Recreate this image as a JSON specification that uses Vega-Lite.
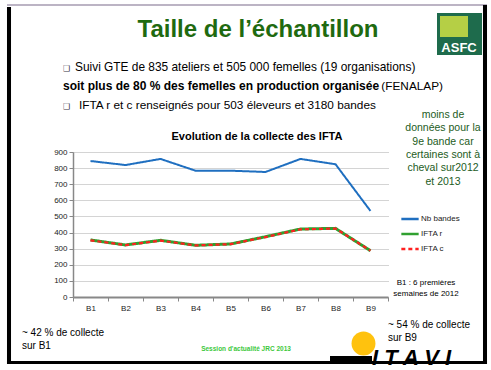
{
 "$schema": "https://vega.github.io/schema/vega-lite/v6.json",
 "width": 315,
 "height": 145,
 "autosize": {"type": "none"},
 "padding": {"left": 73, "top": 152, "right": 103, "bottom": 73},
 "background": "white",
 "config": {"view": {"stroke": null}, "font": "Liberation Sans", "text": {"font": "Liberation Sans"}},
 "data": {"values": [
  {"bande": "B1", "serie": "Nb bandes", "valeur": 844},
  {"bande": "B2", "serie": "Nb bandes", "valeur": 819},
  {"bande": "B3", "serie": "Nb bandes", "valeur": 857},
  {"bande": "B4", "serie": "Nb bandes", "valeur": 784},
  {"bande": "B5", "serie": "Nb bandes", "valeur": 784},
  {"bande": "B6", "serie": "Nb bandes", "valeur": 776},
  {"bande": "B7", "serie": "Nb bandes", "valeur": 857},
  {"bande": "B8", "serie": "Nb bandes", "valeur": 824},
  {"bande": "B9", "serie": "Nb bandes", "valeur": 534},
  {"bande": "B1", "serie": "IFTA r", "valeur": 354},
  {"bande": "B2", "serie": "IFTA r", "valeur": 323},
  {"bande": "B3", "serie": "IFTA r", "valeur": 352},
  {"bande": "B4", "serie": "IFTA r", "valeur": 321},
  {"bande": "B5", "serie": "IFTA r", "valeur": 329},
  {"bande": "B6", "serie": "IFTA r", "valeur": 374},
  {"bande": "B7", "serie": "IFTA r", "valeur": 422},
  {"bande": "B8", "serie": "IFTA r", "valeur": 426},
  {"bande": "B9", "serie": "IFTA r", "valeur": 287},
  {"bande": "B1", "serie": "IFTA c", "valeur": 352},
  {"bande": "B2", "serie": "IFTA c", "valeur": 322},
  {"bande": "B3", "serie": "IFTA c", "valeur": 350},
  {"bande": "B4", "serie": "IFTA c", "valeur": 320},
  {"bande": "B5", "serie": "IFTA c", "valeur": 328},
  {"bande": "B6", "serie": "IFTA c", "valeur": 372},
  {"bande": "B7", "serie": "IFTA c", "valeur": 420},
  {"bande": "B8", "serie": "IFTA c", "valeur": 425},
  {"bande": "B9", "serie": "IFTA c", "valeur": 288}
 ]},
 "resolve": {"scale": {"x": "independent", "y": "independent"}},
 "layer": [
  {
   "encoding": {
    "x": {"field": "bande", "type": "nominal",
     "scale": {"type": "band", "domain": ["B1","B2","B3","B4","B5","B6","B7","B8","B9"], "paddingInner": 0, "paddingOuter": 0},
     "axis": {"title": null, "labelAngle": 0, "labelFontSize": 8, "labelColor": "#222", "domainColor": "#888", "domainWidth": 2, "tickColor": "#888", "tickSize": 4, "tickBand": "extent", "labelPadding": 3, "grid": false}},
    "y": {"field": "valeur", "type": "quantitative",
     "scale": {"domain": [0, 900], "nice": false},
     "axis": {"title": null, "values": [0,100,200,300,400,500,600,700,800,900], "labelFontSize": 8, "labelColor": "#222", "grid": true, "gridColor": "#a8a8a8", "gridDash": [1,1], "domainColor": "#888", "domainWidth": 1.5, "tickColor": "#888", "tickSize": 4, "labelPadding": 2}},
    "color": {"field": "serie", "type": "nominal",
     "scale": {"domain": ["Nb bandes","IFTA r","IFTA c"], "range": ["#1f6fc0","#30a030","#ff2020"]},
     "legend": {"title": null, "orient": "none", "legendX": 327, "legendY": 57, "symbolType": "stroke", "symbolSize": 300, "symbolStrokeWidth": 2.5, "labelFontSize": 8, "labelColor": "#222", "labelOffset": 1, "rowPadding": -7}},
    "strokeDash": {"field": "serie", "type": "nominal",
     "scale": {"domain": ["Nb bandes","IFTA r","IFTA c"], "range": [[1,0],[1,0],[4,3]]},
     "legend": {"title": null, "orient": "none", "legendX": 327, "legendY": 57, "symbolType": "stroke", "symbolSize": 300, "symbolStrokeWidth": 2.5, "labelFontSize": 8, "labelColor": "#222", "labelOffset": 1, "rowPadding": -7}}
   },
   "layer": [
    {"transform": [{"filter": "datum.serie === 'Nb bandes'"}], "mark": {"type": "line", "strokeWidth": 2}},
    {"transform": [{"filter": "datum.serie === 'IFTA r'"}], "mark": {"type": "line", "strokeWidth": 3}},
    {"transform": [{"filter": "datum.serie === 'IFTA c'"}], "mark": {"type": "line", "strokeWidth": 2.2}}
   ]
  },
  {
   "data": {"values": [{}]},
   "layer": [
    {"mark": {"type": "rect", "color": "#7a6a8a"},
     "encoding": {"x": {"datum": -1.886, "type": "quantitative", "scale": {"domain": [0, 9], "nice": false}, "axis": null}, "x2": {"datum": 11.829},
      "y": {"datum": 1815.5, "type": "quantitative", "scale": {"domain": [0, 900], "nice": false}, "axis": null}, "y2": {"datum": 1809.3}}},
    {"mark": {"type": "rect", "color": "#000"},
     "encoding": {"x": {"datum": -1.886, "type": "quantitative", "scale": {"domain": [0, 9], "nice": false}, "axis": null}, "x2": {"datum": -1.771},
      "y": {"datum": 1800, "type": "quantitative", "scale": {"domain": [0, 900], "nice": false}, "axis": null}, "y2": {"datum": -415.9}}},
    {"mark": {"type": "rect", "color": "#000"},
     "encoding": {"x": {"datum": 11.714, "type": "quantitative", "scale": {"domain": [0, 9], "nice": false}, "axis": null}, "x2": {"datum": 11.829},
      "y": {"datum": 1812.4, "type": "quantitative", "scale": {"domain": [0, 900], "nice": false}, "axis": null}, "y2": {"datum": -415.9}}},
    {"mark": {"type": "rect", "color": "#000"},
     "encoding": {"x": {"datum": -1.886, "type": "quantitative", "scale": {"domain": [0, 9], "nice": false}, "axis": null}, "x2": {"datum": 11.829},
      "y": {"datum": -397.2, "type": "quantitative", "scale": {"domain": [0, 900], "nice": false}, "axis": null}, "y2": {"datum": -415.9}}},
    {"mark": {"type": "rect", "color": "#1e6b4c"},
     "encoding": {"x": {"datum": 10.4, "type": "quantitative", "scale": {"domain": [0, 9], "nice": false}, "axis": null}, "x2": {"datum": 11.686},
      "y": {"datum": 1762.8, "type": "quantitative", "scale": {"domain": [0, 900], "nice": false}, "axis": null}, "y2": {"datum": 1502.1}}},
    {"mark": {"type": "rect", "color": "#b5cf45"},
     "encoding": {"x": {"datum": 10.486, "type": "quantitative", "scale": {"domain": [0, 9], "nice": false}, "axis": null}, "x2": {"datum": 11.286},
      "y": {"datum": 1744.1, "type": "quantitative", "scale": {"domain": [0, 900], "nice": false}, "axis": null}, "y2": {"datum": 1613.8}}},
    {"mark": {"type": "text", "text": "ASFC", "fontSize": 13, "fontWeight": "bold", "color": "white", "align": "center", "baseline": "alphabetic"},
     "encoding": {"x": {"datum": 11.029, "type": "quantitative", "scale": {"domain": [0, 9], "nice": false}, "axis": null},
      "y": {"datum": 1520.7, "type": "quantitative", "scale": {"domain": [0, 900], "nice": false}, "axis": null}}},
    {"mark": {"type": "text", "text": "Taille de l’échantillon", "fontSize": 24, "fontWeight": "bold", "color": "#1f6a10", "align": "center", "baseline": "alphabetic"},
     "encoding": {"x": {"datum": 5.286, "type": "quantitative", "scale": {"domain": [0, 9], "nice": false}, "axis": null},
      "y": {"datum": 1613.8, "type": "quantitative", "scale": {"domain": [0, 900], "nice": false}, "axis": null}}},
    {"mark": {"type": "text", "text": "❑", "font": "DejaVu Sans", "fontSize": 8, "color": "#334", "align": "left", "baseline": "alphabetic"},
     "encoding": {"x": {"datum": -0.2857, "type": "quantitative", "scale": {"domain": [0, 9], "nice": false}, "axis": null},
      "y": {"datum": 1402.8, "type": "quantitative", "scale": {"domain": [0, 900], "nice": false}, "axis": null}}},
    {"mark": {"type": "text", "text": "Suivi GTE de 835 ateliers et 505 000 femelles (19 organisations)", "fontSize": 11.9, "color": "#000", "align": "left", "baseline": "alphabetic"},
     "encoding": {"x": {"datum": 0.057, "type": "quantitative", "scale": {"domain": [0, 9], "nice": false}, "axis": null},
      "y": {"datum": 1402.8, "type": "quantitative", "scale": {"domain": [0, 900], "nice": false}, "axis": null}}},
    {"mark": {"type": "text", "text": "soit plus de 80 % des femelles en production organisée", "fontSize": 12, "fontWeight": "bold", "color": "#000", "align": "left", "baseline": "alphabetic"},
     "encoding": {"x": {"datum": -0.2857, "type": "quantitative", "scale": {"domain": [0, 9], "nice": false}, "axis": null},
      "y": {"datum": 1284.8, "type": "quantitative", "scale": {"domain": [0, 900], "nice": false}, "axis": null}}},
    {"mark": {"type": "text", "text": "(FENALAP)", "fontSize": 11.8, "color": "#000", "align": "right", "baseline": "alphabetic"},
     "encoding": {"x": {"datum": 10.571, "type": "quantitative", "scale": {"domain": [0, 9], "nice": false}, "axis": null},
      "y": {"datum": 1284.8, "type": "quantitative", "scale": {"domain": [0, 900], "nice": false}, "axis": null}}},
    {"mark": {"type": "text", "text": "❑", "font": "DejaVu Sans", "fontSize": 8, "color": "#334", "align": "left", "baseline": "alphabetic"},
     "encoding": {"x": {"datum": -0.2857, "type": "quantitative", "scale": {"domain": [0, 9], "nice": false}, "axis": null},
      "y": {"datum": 1166.9, "type": "quantitative", "scale": {"domain": [0, 900], "nice": false}, "axis": null}}},
    {"mark": {"type": "text", "text": "IFTA r et c renseignés pour 503 éleveurs et 3180 bandes", "fontSize": 11.8, "color": "#000", "align": "left", "baseline": "alphabetic"},
     "encoding": {"x": {"datum": 0.171, "type": "quantitative", "scale": {"domain": [0, 9], "nice": false}, "axis": null},
      "y": {"datum": 1166.9, "type": "quantitative", "scale": {"domain": [0, 900], "nice": false}, "axis": null}}},
    {"mark": {"type": "text", "text": "Evolution de la collecte des IFTA", "fontSize": 11, "fontWeight": "bold", "color": "#000", "align": "center", "baseline": "alphabetic"},
     "encoding": {"x": {"datum": 5.257, "type": "quantitative", "scale": {"domain": [0, 9], "nice": false}, "axis": null},
      "y": {"datum": 974.5, "type": "quantitative", "scale": {"domain": [0, 900], "nice": false}, "axis": null}}},
    {"mark": {"type": "text", "text": ["moins de", "données pour la", "9e bande car", "certaines sont à", "cheval sur2012", "et 2013"], "lineHeight": 13.3, "fontSize": 10.5, "color": "#1d5c1d", "align": "center", "baseline": "alphabetic"},
     "encoding": {"x": {"datum": 10.571, "type": "quantitative", "scale": {"domain": [0, 9], "nice": false}, "axis": null},
      "y": {"datum": 1111, "type": "quantitative", "scale": {"domain": [0, 900], "nice": false}, "axis": null}}},
    {"mark": {"type": "text", "text": ["B1 : 6 premières", "semaines de 2012"], "lineHeight": 11, "fontSize": 8, "color": "#000", "align": "center", "baseline": "alphabetic"},
     "encoding": {"x": {"datum": 10.086, "type": "quantitative", "scale": {"domain": [0, 9], "nice": false}, "axis": null},
      "y": {"datum": 74.5, "type": "quantitative", "scale": {"domain": [0, 900], "nice": false}, "axis": null}}},
    {"mark": {"type": "text", "text": ["~ 42 % de collecte", "sur B1"], "lineHeight": 13, "fontSize": 10, "color": "#000", "align": "left", "baseline": "alphabetic"},
     "encoding": {"x": {"datum": -1.457, "type": "quantitative", "scale": {"domain": [0, 9], "nice": false}, "axis": null},
      "y": {"datum": -242.1, "type": "quantitative", "scale": {"domain": [0, 900], "nice": false}, "axis": null}}},
    {"mark": {"type": "text", "text": ["~ 54 % de collecte", "sur B9"], "lineHeight": 13, "fontSize": 10, "color": "#000", "align": "left", "baseline": "alphabetic"},
     "encoding": {"x": {"datum": 9.0, "type": "quantitative", "scale": {"domain": [0, 9], "nice": false}, "axis": null},
      "y": {"datum": -192.4, "type": "quantitative", "scale": {"domain": [0, 900], "nice": false}, "axis": null}}},
    {"mark": {"type": "text", "text": "Session d'actualité JRC 2013", "fontSize": 6.5, "fontWeight": "bold", "color": "#3cc83c", "align": "center", "baseline": "alphabetic"},
     "encoding": {"x": {"datum": 4.943, "type": "quantitative", "scale": {"domain": [0, 9], "nice": false}, "axis": null},
      "y": {"datum": -335.2, "type": "quantitative", "scale": {"domain": [0, 900], "nice": false}, "axis": null}}},
    {"mark": {"type": "point", "shape": "circle", "filled": true, "size": 572, "color": "#ffc20e", "opacity": 1},
     "encoding": {"x": {"datum": 8.3, "type": "quantitative", "scale": {"domain": [0, 9], "nice": false}, "axis": null},
      "y": {"datum": -288.6, "type": "quantitative", "scale": {"domain": [0, 900], "nice": false}, "axis": null}}},
    {"mark": {"type": "rect", "color": "#000"},
     "encoding": {"x": {"datum": 7.343, "type": "quantitative", "scale": {"domain": [0, 9], "nice": false}, "axis": null}, "x2": {"datum": 8.543},
      "y": {"datum": -366.2, "type": "quantitative", "scale": {"domain": [0, 900], "nice": false}, "axis": null}, "y2": {"datum": -397.2}}},
    {"mark": {"type": "text", "text": "I T A V I", "fontSize": 22, "fontWeight": "bold", "fontStyle": "italic", "color": "#000", "align": "left", "baseline": "alphabetic"},
     "encoding": {"x": {"datum": 8.543, "type": "quantitative", "scale": {"domain": [0, 9], "nice": false}, "axis": null},
      "y": {"datum": -422.1, "type": "quantitative", "scale": {"domain": [0, 900], "nice": false}, "axis": null}}}
   ]
  }
 ]
}
